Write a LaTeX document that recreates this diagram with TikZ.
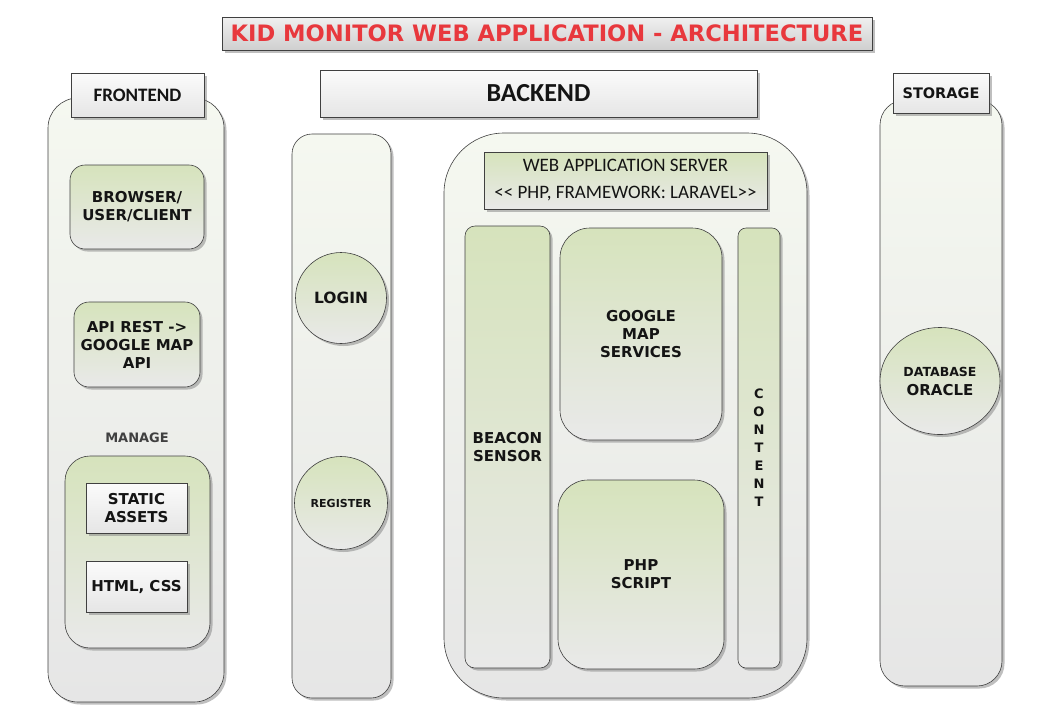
\documentclass[tikz,border=0pt]{standalone}
\usepackage{fontspec}
\setmainfont{DejaVu Sans}
\newfontfamily\calfont{Carlito}
\usetikzlibrary{shadows,shapes.geometric}
\definecolor{panelTop}{HTML}{F5F8F0}
\definecolor{panelBot}{HTML}{E6E6E6}
\definecolor{leafTop}{HTML}{D6E3BC}
\definecolor{leafBot}{HTML}{E9E9E9}
\definecolor{edge}{HTML}{404040}
\definecolor{ink}{HTML}{141414}
\definecolor{titleRed}{HTML}{E8383D}
\begin{document}
\begin{tikzpicture}[x=1pt,y=-1pt,
  panel/.style={draw=edge,line width=0.6pt,top color=panelTop,bottom color=panelBot,inner sep=0pt,text=ink,
    drop shadow={shadow xshift=2.5pt,shadow yshift=-2.5pt,opacity=0.5}},
  leaf/.style={panel,top color=leafTop,bottom color=leafBot},
  tab/.style={panel,top color=gray!3,bottom color=gray!20},
  lbl/.style={font=\fontsize{15}{18}\selectfont\bfseries,align=center}]
\fill[white] (0,0) rectangle (1063,710);
\useasboundingbox (0,0) rectangle (1063,710);
\node[tab,top color=gray!12,bottom color=gray!38,minimum width=650pt,minimum height=33pt,text=titleRed,font=\fontsize{22.6}{25}\selectfont\bfseries] (title) at (547,33.5) {KID MONITOR WEB APPLICATION - ARCHITECTURE};
\node[panel,rounded corners=30pt,minimum width=176pt,minimum height=604pt] (front) at (136,400) {};
\node[tab,minimum width=133pt,minimum height=44pt,font=\calfont\fontsize{19}{22}\selectfont\bfseries] (fronttab) at (137.5,95) {FRONTEND};
\node[leaf,lbl,rounded corners=15pt,minimum width=134pt,minimum height=84pt] (browser) at (137,207) {BROWSER/\\USER/CLIENT};
\node[leaf,lbl,rounded corners=15pt,minimum width=126pt,minimum height=85pt] (apirest) at (137,344.5) {API REST ->\\GOOGLE MAP\\API};
\node[text=edge,font=\fontsize{13}{15}\selectfont\bfseries] (manage) at (137,438) {MANAGE};
\node[leaf,rounded corners=25pt,minimum width=145pt,minimum height=192pt] (managebox) at (137.5,552) {};
\node[tab,lbl,minimum width=101pt,minimum height=50pt] (static) at (136.5,508) {STATIC\\ASSETS};
\node[tab,lbl,minimum width=101pt,minimum height=51pt] (htmlcss) at (136.5,586.5) {HTML, CSS};
\node[tab,minimum width=437pt,minimum height=47pt,font=\calfont\fontsize{26}{30}\selectfont\bfseries] (backend) at (538.5,93.5) {BACKEND};
\node[panel,rounded corners=20pt,minimum width=99pt,minimum height=564pt] (auth) at (341.5,416) {};
\node[leaf,circle,minimum size=91pt,font=\fontsize{15.5}{18}\selectfont\bfseries] (login) at (341,298) {LOGIN};
\node[leaf,circle,minimum size=93pt,font=\fontsize{11}{13}\selectfont\bfseries] (register) at (341,503) {REGISTER};
\node[panel,rounded corners=60pt,minimum width=363pt,minimum height=565pt] (webapp) at (625.5,415.5) {};
\node[leaf,minimum width=283pt,minimum height=57pt,align=center,font=\calfont\fontsize{19}{27}\selectfont] (server) at (625.5,180.5) {WEB APPLICATION SERVER\\<{}< PHP, FRAMEWORK: LARAVEL>{}>};
\node[leaf,lbl,rounded corners=10pt,minimum width=85pt,minimum height=442pt] (beacon) at (507.5,447) {BEACON\\SENSOR};
\node[leaf,lbl,rounded corners=30pt,minimum width=162pt,minimum height=212pt] (gmap) at (641,334) {GOOGLE\\MAP\\SERVICES};
\node[leaf,lbl,rounded corners=30pt,minimum width=166pt,minimum height=189pt] (php) at (641,574.5) {PHP\\SCRIPT};
\node[leaf,rounded corners=8pt,minimum width=42pt,minimum height=440pt,align=center,font=\fontsize{13}{18}\selectfont\bfseries] (content) at (759,448) {C\\O\\N\\T\\E\\N\\T};
\node[panel,rounded corners=25pt,minimum width=122pt,minimum height=586pt] (storage) at (941,393) {};
\node[tab,minimum width=96pt,minimum height=40pt,font=\fontsize{14.5}{17}\selectfont\bfseries] (storagetab) at (941,93) {STORAGE};
\node[leaf,ellipse,minimum width=120pt,minimum height=107pt,align=center,font=\fontsize{15}{17}\selectfont\bfseries] (oracle) at (940,381) {{\fontsize{12.5}{17}\selectfont DATABASE}\\[2pt]ORACLE};
\end{tikzpicture}
\end{document}
